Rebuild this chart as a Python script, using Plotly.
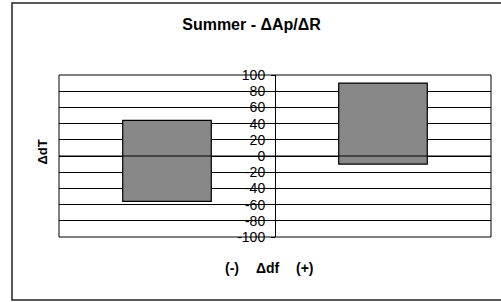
import plotly.graph_objects as go

categories = ["(-)", "(+)"]
x_pos = [0.5, 1.5]
low_values = [-56, -10]
high_values = [44, 90]
tick_vals = list(range(-100, 101, 20))
tick_text = [str(v) for v in tick_vals]

FONT = "Liberation Sans, Arial, sans-serif"

fig = go.Figure()
fig.add_trace(go.Bar(
    x=x_pos,
    y=[h - l for h, l in zip(high_values, low_values)],
    base=low_values,
    width=0.41,
    marker=dict(color="#888888", line=dict(color="black", width=1.2)),
    hoverinfo="skip",
))

fig.update_layout(
    width=501, height=302,
    margin=dict(l=59, r=10, t=75, b=65, autoexpand=False),
    paper_bgcolor="white", plot_bgcolor="white",
    showlegend=False,
    title=dict(text="<b>Summer - ΔAp/ΔR</b>", x=(251.5 - 59) / 432, xref="paper",
               xanchor="center", y=1 - 24 / 302, yanchor="middle",
               font=dict(family=FONT, size=16, color="black")),
    xaxis=dict(range=[0, 2], showgrid=False, showticklabels=False, zeroline=False,
               showline=False, ticks="", automargin=False),
    yaxis=dict(range=[-100, 100], tickvals=tick_vals, ticktext=tick_text,
               showgrid=True, gridcolor="black", gridwidth=1,
               anchor="free", position=0.5, showline=True, linecolor="black",
               linewidth=1, ticks="outside", ticklen=4, tickcolor="black",
               ticklabelstandoff=3, automargin=False,
               zeroline=False, tickfont=dict(family=FONT, size=14, color="black")),
    font=dict(family=FONT, color="black"),
)

# zero line above the bars
fig.add_shape(type="line", xref="x", yref="y", x0=0, x1=2, y0=0, y1=0,
              line=dict(color="black", width=1.2), layer="above")
# plot area border
fig.add_shape(type="rect", xref="paper", yref="paper", x0=0, x1=1, y0=0, y1=1,
              line=dict(color="black", width=1), layer="above")
# chart area border
fig.add_shape(type="rect", xref="paper", yref="paper",
              x0=(12 - 59) / 432, x1=(510 - 59) / 432,
              y0=(237 - 300) / 162, y1=(237 - 3) / 162,
              line=dict(color="#222222", width=1.5), layer="above")

fig.add_annotation(text="<b>ΔdT</b>", xref="paper", yref="paper",
                   x=(42 - 59) / 432, y=(237 - 152.5) / 162, textangle=-90,
                   showarrow=False, xanchor="center", yanchor="middle",
                   font=dict(family=FONT, size=13, color="black"))

for label, cx in [("(-)", 231.5), ("Δdf", 267.5), ("(+)", 305)]:
    fig.add_annotation(text="<b>" + label + "</b>", xref="paper", yref="paper",
                       x=(cx - 59) / 432, y=(237 - 268) / 162,
                       showarrow=False, xanchor="center", yanchor="middle",
                       font=dict(family=FONT, size=14, color="black"))

fig.write_html("out.html", config={"displayModeBar": False},
               post_script="document.body.style.margin='0';document.body.style.padding='0';")
